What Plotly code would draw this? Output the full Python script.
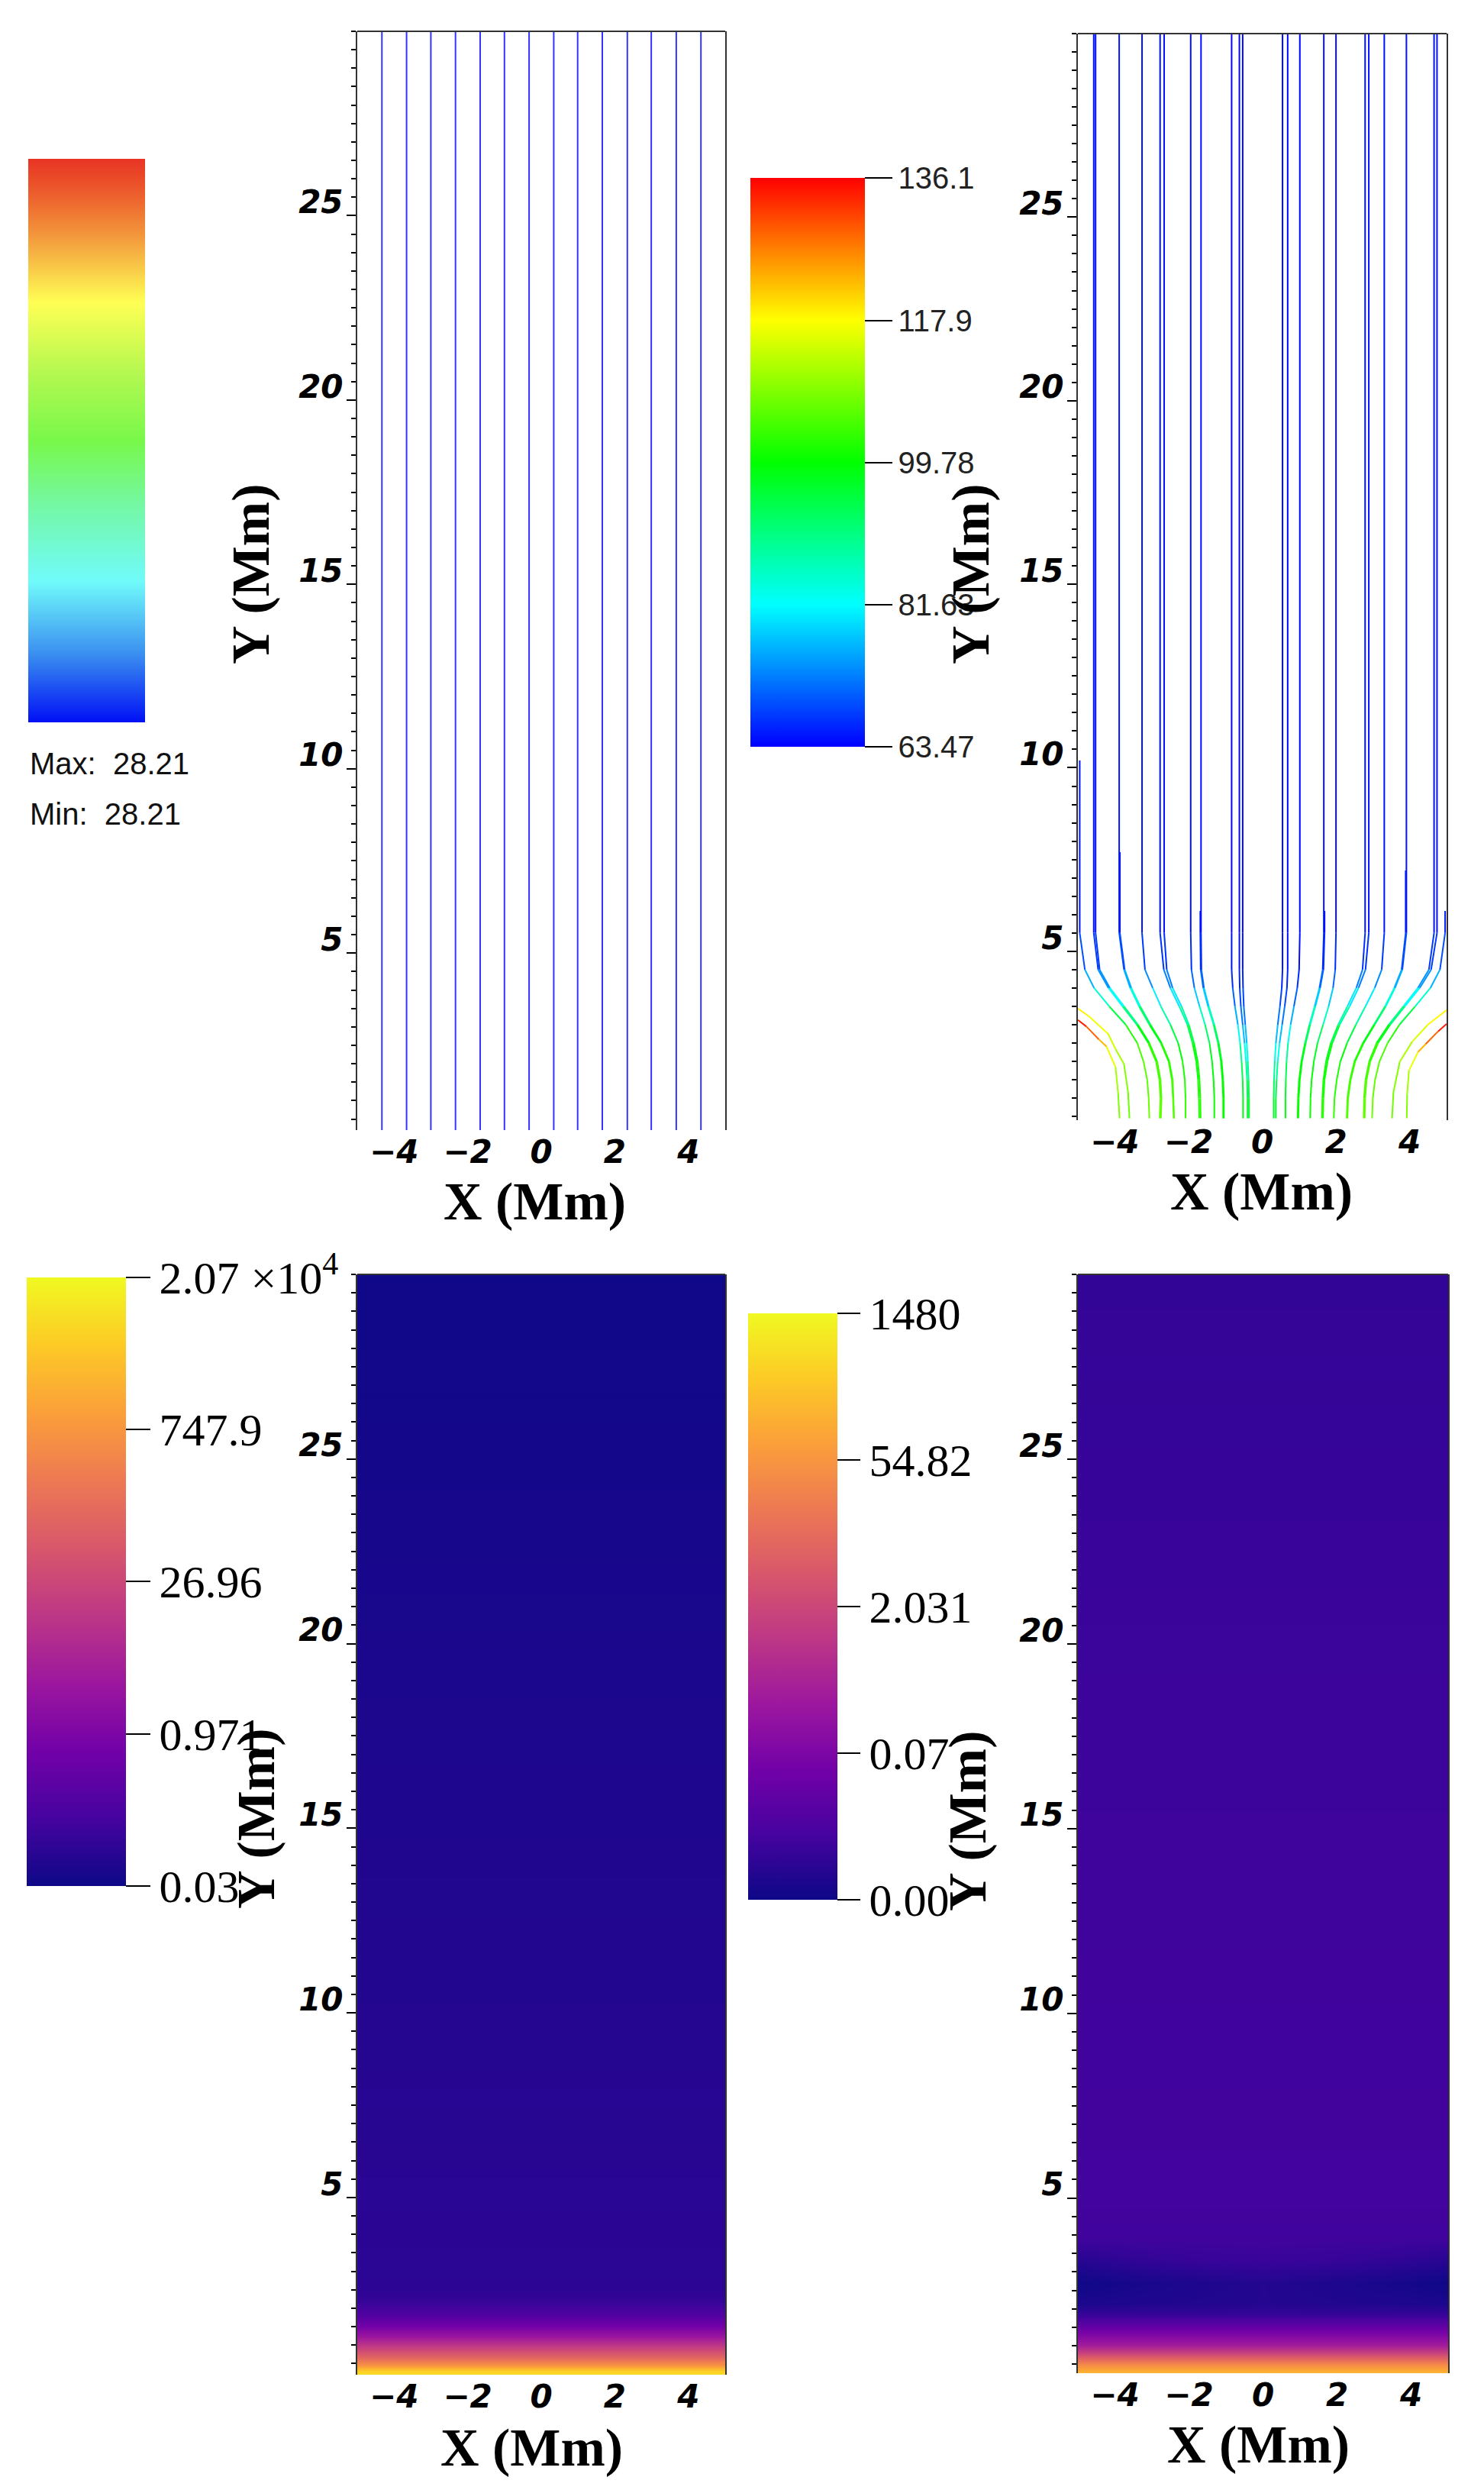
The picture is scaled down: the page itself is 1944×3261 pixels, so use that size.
import plotly.graph_objects as go
from plotly.colors import sample_colorscale

# page is 1944 x 3261, html body keeps its default 8px margin
PAGE_W, PAGE_H = 1944, 3261
PAD = 8
FIG_W, FIG_H = PAGE_W - 2 * PAD, PAGE_H - 2 * PAD


def px(x):
    return (x - PAD) / FIG_W


def py(y):
    return 1 - (y - PAD) / FIG_H


# ---------------- data ----------------
x_ticks = [-4, -2, 0, 2, 4]
x_ticktext = ["\u22124", "\u22122", "0", "2", "4"]
y_ticks = [5, 10, 15, 20, 25]

# top-left: uniform field, |B| = 28.21 on every line
tl_line_x = [-4.33, -3.66, -3.0, -2.33, -1.66, -1.0, -0.33,
             0.34, 0.99, 1.66, 2.34, 2.99, 3.67, 4.34]
tl_b_max = 28.21
tl_b_min = 28.21

# top-right: curved field lines, x at each height, |B| along the line
fl_heights = [30, 5.5, 4.5, 4.0, 3.5, 3.0, 2.5, 2.0, 1.5, 1.0, 0.45]
fl_start = [10.2, 30, 30, 30, 7.7, 30, 30, 30, 30, 30, 6.1, 30, 30, 30,
            30, 30, 30, 30, 6.1, 30, 30, 30, 30, 30, 7.2, 30, 30, 6.1]
fl_x = [
    [-4.95, -4.95, -4.81, -4.56, -4.15, -3.70, -3.39, -3.22, -3.12, -3.08, -3.06],
    [-4.57, -4.57, -4.45, -4.17, -3.79, -3.40, -3.09, -2.88, -2.79, -2.76, -2.78],
    [-4.52, -4.52, -4.41, -4.13, -3.75, -3.37, -3.06, -2.85, -2.76, -2.73, -2.75],
    [-3.88, -3.88, -3.75, -3.58, -3.34, -3.06, -2.75, -2.54, -2.45, -2.42, -2.40],
    [-3.86, -3.86, -3.73, -3.55, -3.31, -3.03, -2.73, -2.52, -2.43, -2.41, -2.39],
    [-3.26, -3.26, -3.18, -2.97, -2.75, -2.49, -2.28, -2.16, -2.10, -2.08, -2.08],
    [-2.77, -2.77, -2.67, -2.49, -2.25, -2.03, -1.89, -1.79, -1.74, -1.72, -1.71],
    [-2.66, -2.66, -2.59, -2.43, -2.19, -1.99, -1.85, -1.75, -1.70, -1.68, -1.67],
    [-1.94, -1.94, -1.92, -1.84, -1.70, -1.55, -1.43, -1.36, -1.32, -1.30, -1.30],
    [-1.66, -1.66, -1.65, -1.58, -1.45, -1.30, -1.18, -1.10, -1.06, -1.04, -1.04],
    [-1.68, -1.68, -1.67, -1.60, -1.47, -1.32, -1.20, -1.12, -1.08, -1.06, -1.06],
    [-0.83, -0.83, -0.83, -0.80, -0.74, -0.66, -0.60, -0.56, -0.53, -0.52, -0.52],
    [-0.62, -0.62, -0.62, -0.61, -0.58, -0.53, -0.48, -0.44, -0.41, -0.40, -0.40],
    [-0.53, -0.53, -0.53, -0.52, -0.50, -0.46, -0.42, -0.39, -0.37, -0.36, -0.36],
    [0.55, 0.55, 0.55, 0.53, 0.48, 0.42, 0.37, 0.34, 0.32, 0.31, 0.31],
    [0.69, 0.69, 0.69, 0.67, 0.61, 0.54, 0.47, 0.42, 0.39, 0.37, 0.37],
    [1.02, 1.02, 1.00, 0.95, 0.86, 0.77, 0.70, 0.66, 0.64, 0.63, 0.63],
    [1.67, 1.67, 1.64, 1.55, 1.42, 1.28, 1.16, 1.06, 1.00, 0.97, 0.96],
    [1.69, 1.69, 1.66, 1.57, 1.44, 1.30, 1.18, 1.08, 1.02, 0.99, 0.98],
    [2.00, 2.00, 1.98, 1.92, 1.80, 1.65, 1.50, 1.40, 1.34, 1.31, 1.30],
    [2.79, 2.79, 2.72, 2.55, 2.31, 2.06, 1.86, 1.73, 1.66, 1.63, 1.62],
    [2.89, 2.89, 2.80, 2.61, 2.37, 2.10, 1.90, 1.77, 1.69, 1.66, 1.65],
    [3.31, 3.31, 3.24, 3.05, 2.80, 2.54, 2.30, 2.12, 2.02, 1.96, 1.94],
    [3.91, 3.91, 3.80, 3.60, 3.35, 3.05, 2.75, 2.52, 2.40, 2.33, 2.31],
    [3.89, 3.89, 3.78, 3.58, 3.33, 3.03, 2.73, 2.50, 2.38, 2.31, 2.29],
    [4.66, 4.66, 4.52, 4.22, 3.83, 3.43, 3.10, 2.90, 2.80, 2.76, 2.75],
    [4.74, 4.74, 4.58, 4.27, 3.87, 3.47, 3.14, 2.93, 2.83, 2.79, 2.78],
    [4.96, 4.96, 4.82, 4.56, 4.15, 3.72, 3.40, 3.18, 3.06, 3.00, 2.98],
]
fl_b = [
    [64, 66, 72, 80, 90, 100, 104, 106, 106, 107, 108],
    [64, 65, 70, 78, 86, 95, 102, 104, 105, 106, 107],
    [64, 65, 70, 78, 86, 95, 102, 104, 105, 106, 107],
    [64, 66, 72, 80, 88, 96, 101, 103, 104, 105, 106],
    [64, 66, 72, 80, 88, 96, 101, 103, 104, 105, 106],
    [64, 65, 70, 77, 84, 92, 98, 101, 102, 103, 104],
    [64, 65, 69, 76, 84, 92, 98, 100, 101, 102, 103],
    [64, 65, 69, 76, 84, 92, 98, 100, 101, 102, 103],
    [64, 65, 68, 74, 82, 90, 96, 99, 100, 100, 101],
    [64, 65, 68, 74, 82, 90, 96, 99, 100, 100, 101],
    [64, 65, 68, 74, 82, 90, 96, 99, 100, 100, 101],
    [64, 64, 65, 68, 73, 79, 86, 92, 96, 98, 99],
    [64, 64, 65, 67, 70, 74, 80, 86, 92, 96, 98],
    [64, 64, 65, 67, 70, 74, 80, 86, 92, 96, 98],
    [64, 64, 65, 67, 70, 74, 80, 86, 92, 96, 98],
    [64, 64, 65, 67, 70, 74, 80, 86, 92, 96, 98],
    [64, 64, 65, 68, 73, 79, 86, 92, 96, 98, 99],
    [64, 65, 68, 74, 82, 90, 96, 99, 100, 100, 101],
    [64, 65, 68, 74, 82, 90, 96, 99, 100, 100, 101],
    [64, 65, 68, 74, 82, 90, 96, 99, 100, 100, 101],
    [64, 65, 69, 76, 84, 92, 98, 100, 101, 102, 103],
    [64, 65, 69, 76, 84, 92, 98, 100, 101, 102, 103],
    [64, 65, 70, 77, 84, 92, 98, 101, 102, 103, 104],
    [64, 66, 72, 80, 88, 96, 101, 103, 104, 105, 106],
    [64, 66, 72, 80, 88, 96, 101, 103, 104, 105, 106],
    [64, 65, 70, 78, 86, 95, 102, 104, 105, 106, 107],
    [64, 65, 70, 78, 86, 95, 102, 104, 105, 106, 107],
    [64, 66, 72, 80, 90, 100, 104, 106, 106, 107, 108],
]
# lines entering through the side boundaries (strongest field)
side_x = [
    [-5.0, -4.77, -4.43, -4.22, -3.98, -3.91, -3.87],
    [-5.0, -4.70, -4.18, -3.98, -3.75, -3.64, -3.60],
    [5.0, 4.77, 4.43, 4.22, 3.98, 3.93, 3.92],
    [5.0, 4.49, 4.07, 3.73, 3.56, 3.52],
]
side_y = [
    [3.13, 2.95, 2.60, 2.40, 1.85, 1.15, 0.45],
    [3.44, 3.23, 2.75, 2.34, 1.93, 1.17, 0.45],
    [3.02, 2.82, 2.47, 2.25, 1.75, 1.10, 0.45],
    [3.40, 3.00, 2.54, 1.99, 1.17, 0.45],
]
side_b = [
    [136, 132, 126, 120, 113, 110, 108],
    [120, 118, 116, 113, 110, 108, 107],
    [136, 132, 126, 120, 113, 110, 108],
    [120, 117, 114, 110, 108, 107],
]
tr_bmin, tr_bmax = 63.47, 136.1
tr_tickvals = [63.47, 81.63, 99.78, 117.9, 136.1]
tr_ticktext = ["63.47", "81.63", "99.78", "117.9", "136.1"]

# bottom-left: log10 of the plotted quantity versus height (uniform in x)
bl_x = [-5, 5]
bl_heights = [0.2, 0.31, 0.45, 0.67, 0.95, 1.24, 1.53, 1.82, 2.17, 2.53,
              5, 10, 15, 20, 25, 30]
bl_log = [3.95, 3.74, 2.87, 2.01, 1.26, 0.45, -0.19, -0.65, -0.99, -1.11,
          -1.14, -1.20, -1.25, -1.31, -1.37, -1.43]
bl_zmin, bl_zmax = -1.456, 4.316
bl_tickvals = [-1.456, -0.013, 1.431, 2.874, 4.316]
bl_ticktext = ["0.03", "0.971", "26.96", "747.9", "2.07 \u00d710<sup>4</sup>"]

# bottom-right: log10 of the plotted quantity on an (x, height) grid
br_x = [-5, -3.5, -2, 0, 2, 3.5, 5]
br_heights = [0.26, 0.31, 0.48, 0.69, 0.82, 1.03, 1.32, 1.59, 1.86, 2.15,
              2.69, 3.30, 3.93, 5, 10, 15, 20, 25, 30]
br_log = [
    [2.31, 2.31, 2.31, 2.31, 2.31, 2.31, 2.31],
    [2.14, 2.14, 2.14, 2.14, 2.14, 2.14, 2.14],
    [1.57, 1.57, 1.57, 1.57, 1.57, 1.57, 1.57],
    [0.71, 0.71, 0.71, 0.71, 0.71, 0.71, 0.71],
    [0.19, 0.19, 0.19, 0.19, 0.19, 0.19, 0.19],
    [-0.55, -0.55, -0.55, -0.55, -0.55, -0.55, -0.55],
    [-1.12, -1.12, -1.12, -1.12, -1.12, -1.12, -1.12],
    [-1.64, -1.64, -1.64, -1.64, -1.64, -1.64, -1.64],
    [-2.10, -2.10, -2.10, -2.10, -2.10, -2.10, -2.10],
    [-2.40, -2.35, -2.33, -2.30, -2.33, -2.35, -2.40],
    [-2.53, -2.45, -2.38, -2.30, -2.38, -2.45, -2.53],
    [-2.27, -2.17, -2.10, -2.07, -2.10, -2.17, -2.27],
    [-1.98, -1.98, -1.98, -1.98, -1.98, -1.98, -1.98],
    [-1.95, -1.95, -1.95, -1.95, -1.95, -1.95, -1.95],
    [-1.98, -1.98, -1.98, -1.98, -1.98, -1.98, -1.98],
    [-2.01, -2.01, -2.01, -2.01, -2.01, -2.01, -2.01],
    [-2.04, -2.04, -2.04, -2.04, -2.04, -2.04, -2.04],
    [-2.10, -2.10, -2.10, -2.10, -2.10, -2.10, -2.10],
    [-2.13, -2.13, -2.13, -2.13, -2.13, -2.13, -2.13],
]
br_zmin, br_zmax = -2.554, 3.170
br_tickvals = [-2.554, -1.123, 0.308, 1.739, 3.170]
br_ticktext = ["0.00", "0.07", "2.031", "54.82", "1480"]

# colour scales
tl_scale = [[0.0, "#0010f5"], [0.12, "#3a8ef0"], [0.25, "#70fbfb"],
            [0.38, "#74f8a8"], [0.5, "#78f84a"], [0.62, "#b4f850"],
            [0.745, "#ffff55"], [0.86, "#f39a3c"], [0.94, "#ec5c2c"],
            [1.0, "#e83424"]]
tr_scale = [[0.0, "#0000ff"], [0.125, "#0080ff"], [0.25, "#00ffff"],
            [0.375, "#00ff80"], [0.5, "#00ff00"], [0.625, "#80ff00"],
            [0.75, "#ffff00"], [0.875, "#ff8000"], [1.0, "#ff0000"]]

# ---------------- figure ----------------
fig = go.Figure()

# top-left field lines
tl_xs, tl_ys = [], []
for xv in tl_line_x:
    tl_xs += [xv, xv, None]
    tl_ys += [0, 30, None]
fig.add_trace(go.Scatter(x=tl_xs, y=tl_ys, mode="lines",
                         line=dict(color="#3434ff", width=2),
                         xaxis="x", yaxis="y", showlegend=False, hoverinfo="skip"))

# top-left colour bar (no tick labels, max/min written below)
fig.add_trace(go.Scatter(
    x=[None], y=[None], mode="markers", xaxis="x", yaxis="y",
    showlegend=False, hoverinfo="skip",
    marker=dict(color=[0.5], colorscale=tl_scale, cmin=0, cmax=1, showscale=True,
                colorbar=dict(x=px(37), xanchor="left", y=py(208), yanchor="top",
                              len=738, lenmode="pixels", thickness=153,
                              thicknessmode="pixels", xpad=0, ypad=0,
                              outlinewidth=0, ticks="", showticklabels=False))))


def add_segments(xs, ys, bs):
    # one short trace per segment so the colour follows |B| along the line
    for i in range(len(xs) - 1):
        t = ((bs[i] + bs[i + 1]) / 2 - tr_bmin) / (tr_bmax - tr_bmin)
        col = sample_colorscale(tr_scale, [min(max(t, 0), 1)])[0]
        fig.add_trace(go.Scatter(x=[xs[i], xs[i + 1]], y=[ys[i], ys[i + 1]],
                                 mode="lines", line=dict(color=col, width=2),
                                 xaxis="x2", yaxis="y2", showlegend=False,
                                 hoverinfo="skip"))


for xs, bs, y0 in zip(fl_x, fl_b, fl_start):
    ys = [y0] + fl_heights[1:]
    add_segments(xs, ys, bs)
for xs, ys, bs in zip(side_x, side_y, side_b):
    add_segments(xs, ys, bs)

# top-right colour bar
fig.add_trace(go.Scatter(
    x=[None], y=[None], mode="markers", xaxis="x2", yaxis="y2",
    showlegend=False, hoverinfo="skip",
    marker=dict(color=[tr_bmin], colorscale=tr_scale, cmin=tr_bmin, cmax=tr_bmax,
                showscale=True,
                colorbar=dict(x=px(983), xanchor="left", y=py(233), yanchor="top",
                              len=745, lenmode="pixels", thickness=150,
                              thicknessmode="pixels", xpad=0, ypad=0, outlinewidth=0,
                              tickmode="array", tickvals=tr_tickvals,
                              ticktext=tr_ticktext, ticks="outside", ticklen=36,
                              tickwidth=2, tickcolor="black",
                              tickfont=dict(family="Liberation Sans", size=40,
                                            color="#222")))))

# bottom-left heat map
fig.add_trace(go.Heatmap(
    x=bl_x, y=bl_heights, z=[[v, v] for v in bl_log], zsmooth="best",
    colorscale="Plasma", zmin=bl_zmin, zmax=bl_zmax, xaxis="x3", yaxis="y3",
    hoverinfo="skip",
    colorbar=dict(x=px(35), xanchor="left", y=py(1673), yanchor="top",
                  len=797, lenmode="pixels", thickness=130, thicknessmode="pixels",
                  xpad=0, ypad=0, outlinewidth=0, tickmode="array",
                  tickvals=bl_tickvals, ticktext=bl_ticktext, ticks="outside",
                  ticklen=32, tickwidth=2, tickcolor="black",
                  tickfont=dict(family="Liberation Serif", size=60, color="black"))))

# bottom-right heat map
fig.add_trace(go.Heatmap(
    x=br_x, y=br_heights, z=br_log, zsmooth="best",
    colorscale="Plasma", zmin=br_zmin, zmax=br_zmax, xaxis="x4", yaxis="y4",
    hoverinfo="skip",
    colorbar=dict(x=px(980), xanchor="left", y=py(1720), yanchor="top",
                  len=768, lenmode="pixels", thickness=117, thicknessmode="pixels",
                  xpad=0, ypad=0, outlinewidth=0, tickmode="array",
                  tickvals=br_tickvals, ticktext=br_ticktext, ticks="outside",
                  ticklen=30, tickwidth=2, tickcolor="black",
                  tickfont=dict(family="Liberation Serif", size=60, color="black"))))

tick_font = dict(family="DejaVu Sans", size=42, color="black",
                 weight="bold", style="italic")


def x_axis(x0, x1, anchor):
    return dict(domain=[px(x0), px(x1)], range=[-5, 5], anchor=anchor,
                tickmode="array", tickvals=x_ticks, ticktext=x_ticktext,
                ticks="", showline=False, showgrid=False, zeroline=False,
                tickfont=tick_font, fixedrange=True)


def y_axis(top, bottom, ymin, anchor):
    return dict(domain=[py(bottom), py(top)], range=[ymin, 30], anchor=anchor,
                tickmode="array", tickvals=y_ticks, ticks="outside", ticklen=12,
                tickwidth=2, tickcolor="black", showline=True, linecolor="#333",
                linewidth=2, mirror=True, showgrid=False, zeroline=False,
                tickfont=tick_font, ticklabelshift=-18, ticklabelstandoff=-4,
                fixedrange=True,
                minor=dict(tickmode="linear", tick0=0, dtick=0.5, ticks="outside",
                           ticklen=6, tickwidth=1.5, tickcolor="black",
                           showgrid=False))


fig.update_layout(
    width=FIG_W, height=FIG_H,
    margin=dict(l=0, r=0, t=0, b=0),
    paper_bgcolor="white", plot_bgcolor="white",
    showlegend=False,
    xaxis=x_axis(468, 950, "y"), yaxis=y_axis(41, 1480, 0.2, "x"),
    xaxis2=x_axis(1412, 1895, "y2"), yaxis2=y_axis(44, 1467, 0.4, "x2"),
    xaxis3=x_axis(468, 950, "y3"), yaxis3=y_axis(1669, 3110, 0.2, "x3"),
    xaxis4=x_axis(1412, 1897, "y4"), yaxis4=y_axis(1669, 3108, 0.26, "x4"),
)

# top frame edge of each panel
for n in ["", "2", "3", "4"]:
    fig.add_shape(type="line", xref=f"x{n} domain", yref=f"y{n} domain",
                  x0=0, x1=1, y0=1, y1=1, line=dict(color="#333", width=2))

title_font = dict(family="Liberation Serif", size=70, color="black", weight="bold")
for cx, cy in [(700, 1573), (1652, 1560), (696, 3205), (1648, 3201)]:
    fig.add_annotation(x=px(cx), y=py(cy), xref="paper", yref="paper",
                       text="X (Mm)", showarrow=False, font=title_font,
                       xanchor="center", yanchor="middle")
for cx, cy in [(329, 752), (1272, 752), (335, 2382), (1267, 2385)]:
    fig.add_annotation(x=px(cx), y=py(cy), xref="paper", yref="paper",
                       text="Y (Mm)", showarrow=False, font=title_font,
                       textangle=-90, xanchor="center", yanchor="middle")

minmax_font = dict(family="Liberation Sans", size=40, color="#111")
fig.add_annotation(x=px(37), y=py(1000), xref="paper", yref="paper",
                   text=f"Max:\u00a0 {tl_b_max:.2f}", showarrow=False,
                   font=minmax_font, xanchor="left", yanchor="middle")
fig.add_annotation(x=px(37), y=py(1066), xref="paper", yref="paper",
                   text=f"Min:\u00a0 {tl_b_min:.2f}", showarrow=False,
                   font=minmax_font, xanchor="left", yanchor="middle")

fig.write_html("out.html")
